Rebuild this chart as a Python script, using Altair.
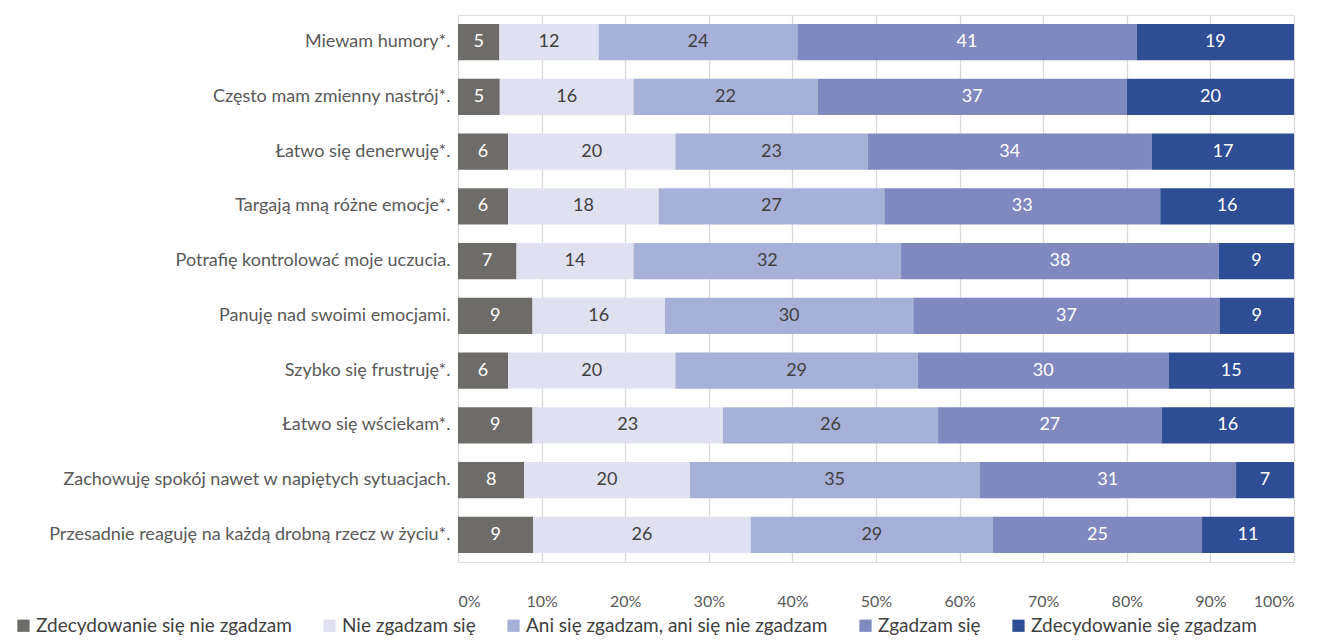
import altair as alt
import pandas as pd

items = [
    "Miewam humory*.",
    "Często mam zmienny nastrój*.",
    "Łatwo się denerwuję*.",
    "Targają mną różne emocje*.",
    "Potrafię kontrolować moje uczucia.",
    "Panuję nad swoimi emocjami.",
    "Szybko się frustruję*.",
    "Łatwo się wściekam*.",
    "Zachowuję spokój nawet w napiętych sytuacjach.",
    "Przesadnie reaguję na każdą drobną rzecz w życiu*.",
]
categories = [
    "Zdecydowanie się nie zgadzam",
    "Nie zgadzam się",
    "Ani się zgadzam, ani się nie zgadzam",
    "Zgadzam się",
    "Zdecydowanie się zgadzam",
]
strongly_disagree = [5, 5, 6, 6, 7, 9, 6, 9, 8, 9]
disagree = [12, 16, 20, 18, 14, 16, 20, 23, 20, 26]
neutral = [24, 22, 23, 27, 32, 30, 29, 26, 35, 29]
agree = [41, 37, 34, 33, 38, 37, 30, 27, 31, 25]
strongly_agree = [19, 20, 17, 16, 9, 9, 15, 16, 7, 11]
tick_values = [0, 0.1, 0.2, 0.3, 0.4, 0.5, 0.6, 0.7, 0.8, 0.9, 1.0]

colors = ["#6e6c69", "#dfe0f0", "#a7b0d6", "#7f88bf", "#2e4d94"]

series = [strongly_disagree, disagree, neutral, agree, strongly_agree]
rows = []
for ci, (cat, vals) in enumerate(zip(categories, series)):
    for item, v in zip(items, vals):
        rows.append({"item": item, "cat": cat, "order": ci, "value": v})
df = pd.DataFrame(rows)

FONT = "Lato"

base = alt.Chart(df).transform_stack(
    stack="value",
    groupby=["item"],
    as_=["x0", "x1"],
    offset="normalize",
    sort=[alt.SortField("order", order="ascending")],
).transform_calculate(mid="(datum.x0 + datum.x1) / 2")

y_enc = alt.Y(
    "item:N",
    sort=items,
    title=None,
    scale=alt.Scale(paddingInner=0.34, paddingOuter=0.165),
    axis=alt.Axis(
        domain=False,
        ticks=False,
        labelFontSize=18,
        labelColor="#595959",
        labelFont=FONT,
        labelPadding=8,
        labelLimit=500,
    ),
)

bars = base.mark_bar().encode(
    x=alt.X(
        "x0:Q",
        title=None,
        scale=alt.Scale(domain=[0, 1], nice=False),
        axis=alt.Axis(
            values=tick_values,
            format=".0%",
            domain=False,
            ticks=False,
            grid=True,
            gridColor="#d9d9d9",
            gridWidth=1.3,
            labelFontSize=16,
            labelColor="#595959",
            labelFont=FONT,
            labelPadding=31,
        ),
    ),
    x2="x1:Q",
    y=y_enc,
    color=alt.Color(
        "cat:N",
        scale=alt.Scale(domain=categories, range=colors),
        legend=alt.Legend(
            title=None,
            orient="none",
            direction="horizontal",
            legendX=-444,
            legendY=601,
            symbolType="square",
            symbolSize=150,
            symbolStrokeWidth=0,
            symbolOpacity=1,
            labelFontSize=19,
            labelFont=FONT,
            labelColor="#404040",
            labelLimit=600,
            columnPadding=28,
            symbolOffset=0,
            labelOffset=3,
        ),
    ),
)

labels = base.mark_text(fontSize=18, font=FONT, baseline="middle", align="center").encode(
    x=alt.X("mid:Q"),
    y=alt.Y("item:N", sort=items),
    text=alt.Text("value:Q"),
    color=alt.condition(
        "datum.order == 0 || datum.order >= 3",
        alt.value("#ffffff"),
        alt.value("#404040"),
    ),
)

chart = (
    alt.layer(bars, labels)
    .properties(
        width=836,
        height=547,
        autosize=alt.AutoSizeParams(type="none"),
        padding={"left": 450, "top": 7, "right": 10, "bottom": 74},
    )
    .configure_view(strokeWidth=0)
    .configure(background="#ffffff")
)

chart.save("out.html", embed_options={"renderer": "svg", "actions": False})
